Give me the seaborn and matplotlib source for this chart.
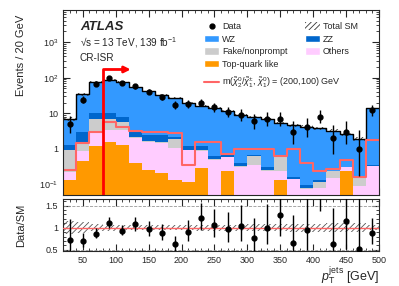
import math
import numpy as np
import pandas as pd
import matplotlib
matplotlib.use("Agg")
import matplotlib.pyplot as plt
import seaborn as sns
from matplotlib.patches import Patch
from matplotlib.lines import Line2D
from matplotlib.ticker import FixedLocator, FixedFormatter, MultipleLocator, LogLocator, NullFormatter

# --- binning : pT(jets) 20-500 GeV, 20 GeV per bin ---
bin_edges = list(range(20, 520, 20))
bin_centers = np.array(bin_edges[:-1]) + 10

# --- values ---
data_counts = [5, 24, 66, 98, 71, 57, 40, 29, 17, 18, 20, 15,
               11, 9, 6, 7, 7, 3, 4, 8, 2, 3, 1, 12]
top_quark = [0.13, 0.44, 1.2, 1.6, 1.24, 0.39, 0.26, 0.21, 0.13, 0.12, 0.29, 0.04,
             0.245, 0.03, 0.04, 0.04, 0.134, 0.02, 0.02, 0.02, 0.02, 0.24, 0.02, 0.02]
others = [0.09, 0.40, 1.87, 1.8, 2.16, 1.61, 1.34, 1.24, 0.92, 0.78, 0.55, 0.45,
          0.335, 0.28, 0.31, 0.20, 0.096, 0.123, 0.055, 0.058, 0.13, 0.06, 0.067, 0.30]
fake = [0.73, 0.66, 3.83, 3.6, 2.1, 0.1, 0.1, 0.15, 0.82, 0.05, 0.06, 0.03,
        0.02, 0.02, 0.26, 0.02, 0.35, 0.002, 0.003, 0.037, 0.08, 0.0, 0.079, 0.01]
zz = [0.30, 1.5, 3.1, 3.0, 2.3, 0.9, 0.7, 0.9, 0.23, 0.21, 0.26, 0.11,
      0.05, 0.08, 0.04, 0.04, 0.02, 0.021, 0.019, 0.019, 0.01, 0.01, 0.004, 0.01]
wz = [5.75, 31, 66, 78, 68, 50, 38.6, 30.5, 24.9, 18.8, 15.2, 13.4,
      10.75, 8.3, 7.15, 6.7, 4.8, 4.43, 4.1, 3.67, 2.96, 2.29, 1.73, 13.26]
signal = [0.26, 1.5, 3.0, 5.5, 4.0, 3.07, 3.0, 2.9, 2.8, 0.35, 1.6, 1.55,
          0.72, 1.0, 0.96, 1.0, 0.61, 0.98, 0.39, 0.23, 0.27, 0.49, 0.166, 1.8]
sm_rel_unc = [0.15, 0.12, 0.08, 0.07, 0.06, 0.06, 0.06, 0.06, 0.06, 0.06, 0.07, 0.07,
              0.07, 0.07, 0.08, 0.08, 0.08, 0.09, 0.09, 0.09, 0.10, 0.10, 0.10, 0.06]

processes = ['WZ', 'ZZ', 'Fake/nonprompt', 'Others', 'Top-quark like']
colors = {'WZ': '#3399ff', 'ZZ': '#0066cc', 'Fake/nonprompt': '#cccccc',
          'Others': '#ffccff', 'Top-quark like': '#ff9900'}
SIG_COLOR = '#ff6666'


def poisson_interval(n, a=0.1587):
    # intervalle de Garwood (68%) par dichotomie sur la CDF de Poisson
    def cdf(k, lam):
        if lam <= 0:
            return 1.0
        return sum(math.exp(-lam + i * math.log(lam) - math.lgamma(i + 1)) for i in range(k + 1))
    lo = 0.0
    if n > 0:
        l, h = 0.0, float(n)
        for _ in range(60):
            m = (l + h) / 2
            if 1 - cdf(n - 1, m) < a:
                l = m
            else:
                h = m
        lo = l
    l, h = float(n), n + 10 * math.sqrt(n + 1) + 10
    for _ in range(60):
        m = (l + h) / 2
        if cdf(n, m) > a:
            l = m
        else:
            h = m
    return lo, l


data = np.array(data_counts, dtype=float)
sm_total = np.array(top_quark) + np.array(others) + np.array(fake) + np.array(zz) + np.array(wz)
unc = np.array(sm_rel_unc)
intervals = [poisson_interval(n) for n in data_counts]
err_dn = data - np.array([i[0] for i in intervals])
err_up = np.array([i[1] for i in intervals]) - data

# long-form table for seaborn
parts = {'WZ': wz, 'ZZ': zz, 'Fake/nonprompt': fake, 'Others': others, 'Top-quark like': top_quark}
df = pd.concat([pd.DataFrame({'pt': bin_centers, 'events': vals, 'process': name})
                for name, vals in parts.items()], ignore_index=True)

sns.set_style("ticks")
plt.rcParams['font.family'] = ['Liberation Sans', 'DejaVu Sans']
plt.rcParams['mathtext.fontset'] = 'custom'
plt.rcParams['mathtext.rm'] = 'Liberation Sans'
plt.rcParams['mathtext.it'] = 'Liberation Sans:italic'
plt.rcParams['mathtext.bf'] = 'Liberation Sans:bold'
plt.rcParams['hatch.linewidth'] = 0.6

fig = plt.figure(figsize=(3.99, 2.86), dpi=100)
ax = fig.add_axes([0.158, 0.318, 0.792, 0.647])
rax = fig.add_axes([0.158, 0.122, 0.792, 0.182])

# --- main panel ---
sns.histplot(data=df, x='pt', weights='events', hue='process', hue_order=processes,
             multiple='stack', bins=bin_edges, element='step', palette=colors,
             alpha=1, linewidth=0, legend=False, ax=ax)
ax.bar(bin_centers, 2 * sm_total * unc, bottom=sm_total * (1 - unc),
       width=20, fill=False, hatch='//////', edgecolor='#333333', linewidth=0)
sns.histplot(x=bin_centers, weights=sm_total, bins=bin_edges, element='step', fill=False,
             color='black', linewidth=1.0, ax=ax)
sns.histplot(x=bin_centers, weights=signal, bins=bin_edges, element='step', fill=False,
             color=SIG_COLOR, linewidth=1.5, ax=ax)
ax.errorbar(bin_centers, data, yerr=[err_dn, err_up], fmt='o', color='black',
            ms=3.5, elinewidth=1.0, capsize=0, zorder=5)

# cut line + arrow
ax.plot([80, 80], [0.05, 170], color='red', linewidth=2, zorder=6)
ax.annotate('', xy=(127, 170), xytext=(79, 170),
            arrowprops=dict(arrowstyle='-|>', color='red', lw=2, mutation_scale=9), zorder=6)

ax.set_yscale('log')
ax.set_xlim(20, 500)
ax.set_ylim(0.05, 8000)
ax.set_xlabel('')
ax.set_ylabel('Events / 20 GeV', fontsize=8, loc='top')
ax.yaxis.set_major_locator(FixedLocator([0.1, 1, 10, 100, 1000]))
ax.yaxis.set_major_formatter(FixedFormatter(['$10^{-1}$', '1', '10', '$10^{2}$', '$10^{3}$']))
ax.yaxis.set_minor_locator(LogLocator(base=10, subs=np.arange(2, 10), numticks=20))
ax.yaxis.set_minor_formatter(NullFormatter())
ax.xaxis.set_major_locator(MultipleLocator(50))
ax.xaxis.set_minor_locator(MultipleLocator(10))
ax.tick_params(labelbottom=False)

ax.text(0.053, 0.91, 'ATLAS', transform=ax.transAxes, fontsize=9.5,
        fontweight='bold', fontstyle='italic', va='center')
ax.text(0.053, 0.825, '\u221as = 13 TeV, 139 fb$^{-1}$', transform=ax.transAxes, fontsize=7.2, va='center')
ax.text(0.053, 0.74, 'CR-ISR', transform=ax.transAxes, fontsize=7.2, va='center')

handles = [Line2D([], [], marker='o', color='black', ls='none', ms=3.5),
           Patch(facecolor=colors['WZ']),
           Patch(facecolor=colors['Fake/nonprompt']),
           Patch(facecolor=colors['Top-quark like']),
           Patch(facecolor='white', hatch='//////', edgecolor='#333333', linewidth=0),
           Patch(facecolor=colors['ZZ']),
           Patch(facecolor=colors['Others'])]
labels = ['Data', 'WZ', 'Fake/nonprompt', 'Top-quark like', 'Total SM', 'ZZ', 'Others']
leg = ax.legend(handles, labels, ncol=2, loc='upper left', bbox_to_anchor=(0.435, 0.955),
                frameon=False, fontsize=6.5, handlelength=1.7, handleheight=0.9,
                handletextpad=0.3, columnspacing=1.9, labelspacing=0.4, borderaxespad=0)
ax.add_artist(leg)
ax.legend([Line2D([], [], color=SIG_COLOR, lw=1.5)],
          [r'm($\tilde{\chi}_2^0/\tilde{\chi}_1^{\pm}$, $\tilde{\chi}_1^0$) = (200,100) GeV'],
          loc='upper left', bbox_to_anchor=(0.435, 0.665), frameon=False, fontsize=6.5,
          handlelength=1.7, handletextpad=0.3, borderaxespad=0)

# --- ratio panel ---
ratio = data / sm_total
rax.bar(bin_centers, 2 * unc, bottom=1 - unc, width=20,
        fill=False, hatch='//////', edgecolor='#555555', linewidth=0)
rax.axhline(1, color=SIG_COLOR, linewidth=1, zorder=3)
for yv in (0.5, 1.5):
    rax.axhline(yv, color='#999999', linestyle='--', linewidth=0.6)
rax.errorbar(bin_centers, ratio, yerr=[err_dn / sm_total, err_up / sm_total], fmt='o',
             color='black', ms=3.5, elinewidth=1.0, capsize=0, zorder=5)
rax.set_xlim(20, 500)
rax.set_ylim(0.47, 1.65)
rax.set_yticks([0.5, 1, 1.5])
rax.set_yticklabels(['0.5', '1', '1.5'])
rax.yaxis.set_minor_locator(MultipleLocator(0.1))
rax.set_xticks([50, 100, 150, 200, 250, 300, 350, 400, 450, 500])
rax.xaxis.set_minor_locator(MultipleLocator(10))
rax.set_ylabel('Data/SM', fontsize=8)
rax.set_xlabel(r'$p_{\mathrm{T}}^{\mathrm{jets}}$ [GeV]', fontsize=9, loc='right')

for a in (ax, rax):
    a.tick_params(which='both', direction='in', top=True, right=True, labelsize=6.5)
    a.tick_params(which='major', length=5)
    a.tick_params(which='minor', length=2.5)
    for s in a.spines.values():
        s.set_linewidth(0.8)

ax.yaxis.set_label_coords(-0.118, 0.975)
rax.yaxis.set_label_coords(-0.118, 0.5)
rax.xaxis.set_label_coords(1.0, -0.27)

fig.savefig('out.png', dpi=100)
